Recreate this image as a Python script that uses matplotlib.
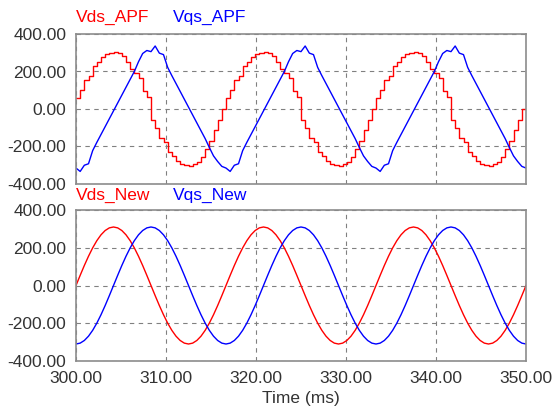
import numpy as np
import matplotlib.pyplot as plt

# time axis (ms), 3 line cycles sampled every 10 electrical degrees
t_start = 300.0
t_end = 350.0
n_points = 109

# top panel: APF outputs (stair-stepped)
vds_apf = [
    59, 100, 155, 175, 230, 250, 279, 293, 298, 302, 296, 285, 250, 215, 190, 165, 95, 66,
    -59, -100, -155, -175, -230, -250, -279, -293, -298, -303, -296, -285, -254, -215, -170, -112, -59, 0,
    59, 100, 155, 175, 230, 250, 279, 293, 298, 302, 296, 285, 250, 215, 190, 165, 95, 66,
    -59, -100, -155, -175, -230, -250, -279, -293, -298, -303, -296, -285, -254, -215, -170, -112, -59, 0,
    59, 100, 155, 175, 230, 250, 279, 293, 298, 302, 296, 285, 250, 215, 190, 165, 95, 66,
    -59, -100, -155, -175, -230, -250, -279, -293, -298, -303, -296, -285, -254, -215, -170, -112, -59, 0,
    0,
]
vqs_apf = [
    -315, -333, -300, -292, -222, -178, -136, -94, -52, -10, 32, 74, 116, 158, 200, 252, 296, 312,
    306, 336, 298, 290, 222, 178, 136, 94, 52, 10, -32, -74, -116, -158, -205, -250, -280, -306,
    -315, -333, -300, -292, -222, -178, -136, -94, -52, -10, 32, 74, 116, 158, 200, 252, 296, 312,
    306, 336, 298, 290, 222, 178, 136, 94, 52, 10, -32, -74, -116, -158, -205, -250, -280, -306,
    -315, -333, -300, -292, -222, -178, -136, -94, -52, -10, 32, 74, 116, 158, 200, 252, 296, 312,
    306, 336, 298, 290, 222, 178, 136, 94, 52, 10, -32, -74, -116, -158, -205, -250, -280, -306,
    -315,
]

# bottom panel: new method outputs (clean)
vds_new = [
    0, 53.8, 106.0, 155.0, 199.3, 237.5, 268.5, 291.3, 305.3, 310.0, 305.3, 291.3, 268.5, 237.5, 199.3, 155.0, 106.0, 53.8,
    0, -53.8, -106.0, -155.0, -199.3, -237.5, -268.5, -291.3, -305.3, -310.0, -305.3, -291.3, -268.5, -237.5, -199.3, -155.0, -106.0, -53.8,
    0, 53.8, 106.0, 155.0, 199.3, 237.5, 268.5, 291.3, 305.3, 310.0, 305.3, 291.3, 268.5, 237.5, 199.3, 155.0, 106.0, 53.8,
    0, -53.8, -106.0, -155.0, -199.3, -237.5, -268.5, -291.3, -305.3, -310.0, -305.3, -291.3, -268.5, -237.5, -199.3, -155.0, -106.0, -53.8,
    0, 53.8, 106.0, 155.0, 199.3, 237.5, 268.5, 291.3, 305.3, 310.0, 305.3, 291.3, 268.5, 237.5, 199.3, 155.0, 106.0, 53.8,
    0, -53.8, -106.0, -155.0, -199.3, -237.5, -268.5, -291.3, -305.3, -310.0, -305.3, -291.3, -268.5, -237.5, -199.3, -155.0, -106.0, -53.8,
    0,
]
vqs_new = [
    -310.0, -305.3, -291.3, -268.5, -237.5, -199.3, -155.0, -106.0, -53.8, 0, 53.8, 106.0, 155.0, 199.3, 237.5, 268.5, 291.3, 305.3,
    310.0, 305.3, 291.3, 268.5, 237.5, 199.3, 155.0, 106.0, 53.8, 0, -53.8, -106.0, -155.0, -199.3, -237.5, -268.5, -291.3, -305.3,
    -310.0, -305.3, -291.3, -268.5, -237.5, -199.3, -155.0, -106.0, -53.8, 0, 53.8, 106.0, 155.0, 199.3, 237.5, 268.5, 291.3, 305.3,
    310.0, 305.3, 291.3, 268.5, 237.5, 199.3, 155.0, 106.0, 53.8, 0, -53.8, -106.0, -155.0, -199.3, -237.5, -268.5, -291.3, -305.3,
    -310.0, -305.3, -291.3, -268.5, -237.5, -199.3, -155.0, -106.0, -53.8, 0, 53.8, 106.0, 155.0, 199.3, 237.5, 268.5, 291.3, 305.3,
    310.0, 305.3, 291.3, 268.5, 237.5, 199.3, 155.0, 106.0, 53.8, 0, -53.8, -106.0, -155.0, -199.3, -237.5, -268.5, -291.3, -305.3,
    -310.0,
]

x_ticks = [300, 310, 320, 330, 340, 350]
y_ticks = [-400, -200, 0, 200, 400]

RED = '#ff0000'
BLUE = '#0000ff'
FONT = 'Liberation Sans'


def style_axes(ax, show_xlabels):
    ax.set_xlim(t_start, t_end)
    ax.set_ylim(-400, 400)
    ax.set_xticks(x_ticks)
    ax.set_yticks(y_ticks)
    ax.set_yticklabels(['%.2f' % v for v in y_ticks])
    if show_xlabels:
        ax.set_xticklabels(['%.2f' % v for v in x_ticks])
    else:
        ax.set_xticklabels([])
    ax.tick_params(length=0, labelsize=12.5, colors='#333333', pad=7)
    for lab in ax.get_xticklabels() + ax.get_yticklabels():
        lab.set_fontfamily(FONT)
    ax.grid(True, color='#808080', linestyle=(0, (4, 4)), linewidth=0.8)
    for sp in ax.spines.values():
        sp.set_color('#8c8c8c')
        sp.set_linewidth(1.2)


def main():
    t = np.linspace(t_start, t_end, n_points)
    fig = plt.figure(figsize=(5.52, 4.11), dpi=100)
    W, H = 552.0, 411.0
    ax1 = fig.add_axes([76 / W, 1 - 184 / H, 450 / W, 150 / H])
    ax2 = fig.add_axes([76 / W, 1 - 361 / H, 450 / W, 151 / H])

    ax1.plot(t, vds_apf, color=RED, lw=1.0, drawstyle='steps-post')
    ax1.plot(t, vqs_apf, color=BLUE, lw=1.0)
    style_axes(ax1, False)

    ax2.plot(t, vds_new, color=RED, lw=1.0)
    ax2.plot(t, vqs_new, color=BLUE, lw=1.0)
    style_axes(ax2, True)
    ax2.set_xlabel('Time (ms)', fontsize=12.5, fontfamily=FONT, color='#333333', labelpad=4)

    fig.text(76 / W, 1 - 17 / H, 'Vds_APF', color=RED, fontsize=12.5, fontfamily=FONT, va='center')
    fig.text(173 / W, 1 - 17 / H, 'Vqs_APF', color=BLUE, fontsize=12.5, fontfamily=FONT, va='center')
    fig.text(76 / W, 1 - 195 / H, 'Vds_New', color=RED, fontsize=12.5, fontfamily=FONT, va='center')
    fig.text(173 / W, 1 - 195 / H, 'Vqs_New', color=BLUE, fontsize=12.5, fontfamily=FONT, va='center')

    fig.savefig('out.png', dpi=100)


if __name__ == '__main__':
    main()
